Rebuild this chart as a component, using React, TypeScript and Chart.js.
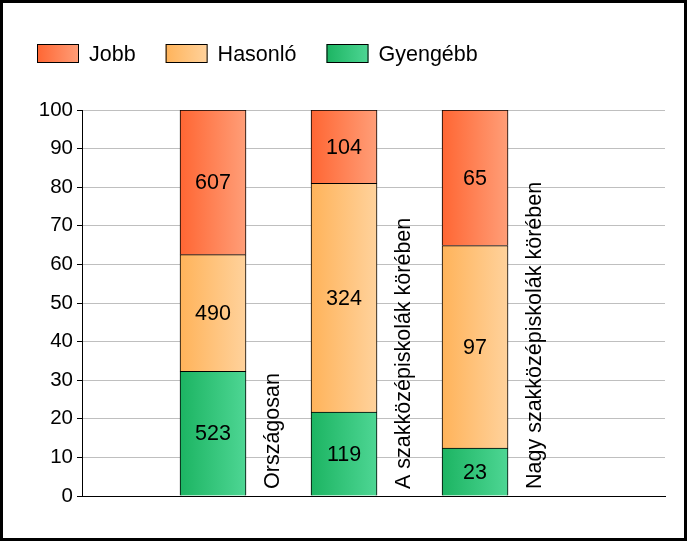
import React, { useEffect, useRef } from "react";
import { Chart, registerables } from "chart.js";

Chart.register(...registerables);

const categories = ["Országosan", "A szakközépiskolák körében", "Nagy szakközépiskolák körében"];
const seriesNames = ["Jobb", "Hasonló", "Gyengébb"];
const jobb = [607, 104, 65];
const hasonlo = [490, 324, 97];
const gyengebb = [523, 119, 23];
const yMin = 0;
const yMax = 100;
const yStep = 10;

const FONT = "'Liberation Sans', Arial, sans-serif";
const gradColors: Record<string, [string, string]> = {
  Jobb: ["#FF6633", "#FF9E78"],
  "Hasonló": ["#FFB35A", "#FFD29C"],
  "Gyengébb": ["#1CB462", "#4ED694"],
};

const countsByName: Record<string, number[]> = {
  Jobb: jobb,
  "Hasonló": hasonlo,
  "Gyengébb": gyengebb,
};

export default function App() {
  const ref = useRef<HTMLCanvasElement | null>(null);

  useEffect(() => {
    document.body.style.margin = "0";
    const canvas = ref.current;
    if (!canvas) return;

    const totals = categories.map((_, i) => jobb[i] + hasonlo[i] + gyengebb[i]);
    const stackOrder = ["Gyengébb", "Hasonló", "Jobb"];

    const datasets = stackOrder.map((name) => ({
      label: name,
      data: countsByName[name].map((v, i) => ({ x: i + 1, y: (v / totals[i]) * 100 })),
      counts: countsByName[name],
      backgroundColor: (ctx: any) => {
        const [c0, c1] = gradColors[name];
        const chart = ctx.chart;
        const xs = chart.scales && chart.scales.x;
        if (!xs || ctx.type !== "data" || !ctx.raw) return c0;
        const cx = xs.getPixelForValue(ctx.raw.x);
        if (!Number.isFinite(cx)) return c0;
        const g = chart.ctx.createLinearGradient(cx - 33, 0, cx + 33, 0);
        g.addColorStop(0, c0);
        g.addColorStop(1, c1);
        return g;
      },
      borderColor: "#000",
      borderWidth: 1,
      borderSkipped: "start",
      barThickness: 66,
    }));

    const framePlugin = {
      id: "frame",
      beforeDraw(chart: any) {
        const c = chart.ctx;
        c.save();
        c.fillStyle = "#fff";
        c.fillRect(0, 0, chart.width, chart.height);
        c.restore();
      },
      afterDatasetsDraw(chart: any) {
        const c = chart.ctx;
        c.save();
        c.font = `21.5px ${FONT}`;
        c.fillStyle = "#000";
        c.textAlign = "center";
        c.textBaseline = "middle";
        chart.data.datasets.forEach((ds: any, di: number) => {
          const meta = chart.getDatasetMeta(di);
          meta.data.forEach((el: any, i: number) => {
            const y = (el.y + el.base) / 2;
            c.fillText(String(ds.counts[i]), el.x, y + 1);
          });
        });
        c.restore();
      },
      afterDraw(chart: any) {
        const c = chart.ctx;
        const xs = chart.scales.x;
        const area = chart.chartArea;
        c.save();
        c.font = `21.5px ${FONT}`;
        c.fillStyle = "#000";
        categories.forEach((cat, i) => {
          const px = xs.getPixelForValue(i + 1.5);
          c.save();
          c.translate(px, area.bottom - 7);
          c.rotate(-Math.PI / 2);
          c.textAlign = "left";
          c.textBaseline = "alphabetic";
          c.fillText(cat, 0, 0);
          c.restore();
        });
        let x = 37;
        const by = 44;
        seriesNames.forEach((name) => {
          const [c0, c1] = gradColors[name];
          const g = c.createLinearGradient(x, 0, x + 42, 0);
          g.addColorStop(0, c0);
          g.addColorStop(1, c1);
          c.fillStyle = g;
          c.fillRect(x, by, 42, 19);
          c.strokeStyle = "#000";
          c.lineWidth = 1;
          c.strokeRect(x + 0.5, by + 0.5, 41, 18);
          c.fillStyle = "#000";
          c.textAlign = "left";
          c.textBaseline = "alphabetic";
          const tx = x + 52;
          c.fillText(name, tx, 61);
          x = tx + c.measureText(name).width + 30;
        });
        c.fillStyle = "#000";
        c.fillRect(0, 0, chart.width, 3);
        c.fillRect(0, chart.height - 3, chart.width, 3);
        c.fillRect(0, 0, 3, chart.height);
        c.fillRect(chart.width - 3, 0, 3, chart.height);
        c.restore();
      },
    };

    const chart = new Chart(canvas, {
      type: "bar",
      data: { datasets: datasets as any },
      options: {
        animation: false,
        responsive: false,
        layout: { padding: { top: 110, right: 22, bottom: 45, left: 0 } },
        plugins: {
          legend: { display: false },
          tooltip: { enabled: false },
        },
        scales: {
          x: {
            type: "linear",
            stacked: true,
            offset: false,
            min: 0,
            max: 4.45,
            grid: { display: false, offset: false },
            ticks: { display: false },
            border: { display: true, color: "#000", width: 1 },
            afterFit: (s: any) => {
              s.height = 0;
            },
          },
          y: {
            stacked: true,
            min: yMin,
            max: yMax,
            ticks: {
              stepSize: yStep,
              color: "#000",
              font: { family: FONT, size: 20.5 },
              padding: 4,
            },
            grid: {
              color: "#BFBFBF",
              lineWidth: 1,
              tickColor: "#000",
              tickLength: 5,
            },
            border: { display: true, color: "#000", width: 1 },
            afterFit: (s: any) => {
              s.width = 82;
            },
          },
        },
      },
      plugins: [framePlugin],
    });

    return () => chart.destroy();
  }, []);

  return (
    <div style={{ width: 687, height: 541 }}>
      <canvas ref={ref} width={687} height={541} style={{ display: "block", width: 687, height: 541 }} />
    </div>
  );
}
